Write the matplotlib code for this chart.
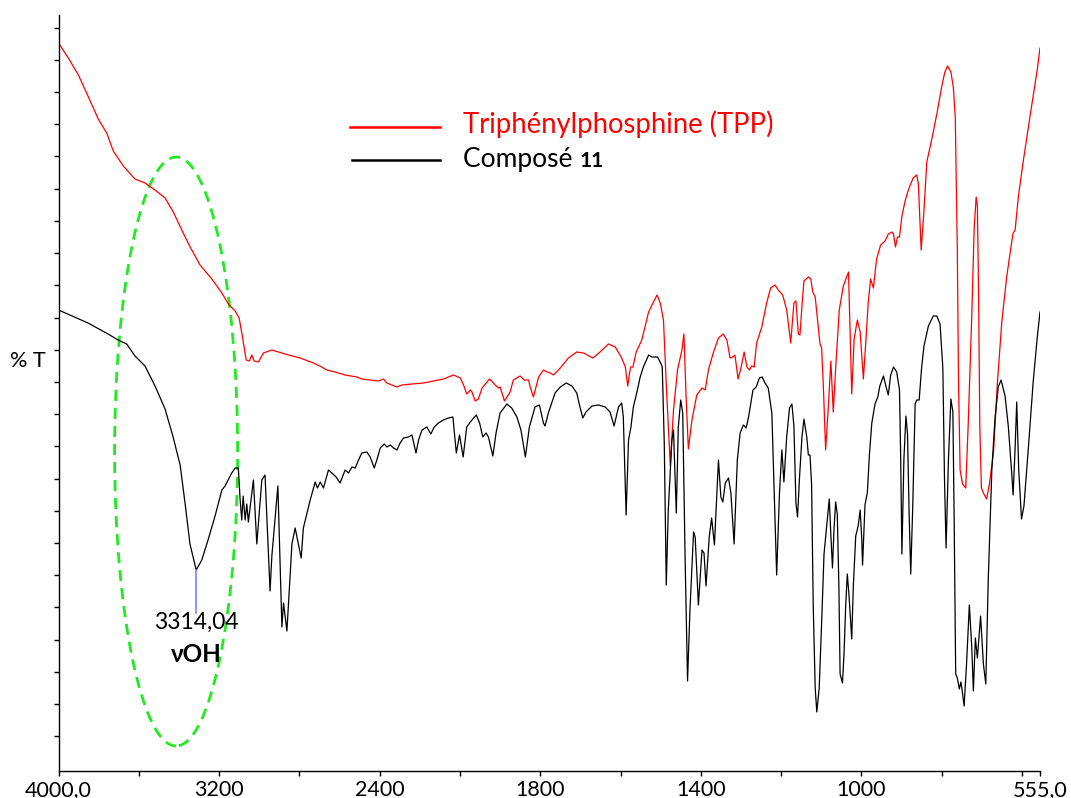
import numpy as np
import matplotlib
matplotlib.use("Agg")
import matplotlib.pyplot as plt
from matplotlib.patches import Ellipse

plt.rcParams['font.family'] = ['Lato', 'DejaVu Sans']

# compound 11 (black trace): wavenumber (cm-1) / transmittance
wn_cpd = [4000, 3853, 3753, 3703, 3660, 3619, 3569, 3519, 3469, 3429, 3394, 3369, 3345, 3314,
          3286, 3255, 3220, 3186, 3170, 3137, 3120, 3104, 3095, 3087, 3080, 3070, 3062, 3054,
          3029, 3012, 2987, 2971, 2946, 2937, 2907, 2887, 2879, 2862, 2837, 2821, 2791, 2780,
          2746, 2721, 2710, 2696, 2680, 2655, 2638, 2617, 2597, 2572, 2555, 2538, 2522, 2505,
          2489, 2464, 2447, 2427, 2414, 2397, 2377, 2364, 2347, 2331, 2314, 2298, 2281, 2256,
          2239, 2219, 2206, 2189, 2165, 2145, 2128, 2107, 2082, 2057, 2035, 2018, 2002, 1992,
          1983, 1974, 1966, 1959, 1951, 1943, 1935, 1929, 1918, 1910, 1900, 1883, 1871, 1858,
          1848, 1837, 1827, 1813, 1802, 1792, 1788, 1779, 1763, 1750, 1735, 1721, 1709, 1701,
          1694, 1686, 1671, 1655, 1638, 1626, 1616, 1605, 1597, 1593, 1586, 1580, 1574, 1568,
          1559, 1551, 1543, 1530, 1522, 1514, 1508, 1501, 1496, 1491, 1486, 1481, 1472, 1468,
          1461, 1456, 1450, 1445, 1439, 1433, 1427, 1418, 1414, 1406, 1397, 1392, 1387, 1379,
          1373, 1366, 1360, 1356, 1350, 1345, 1339, 1331, 1325, 1317, 1309, 1302, 1294, 1287,
          1281, 1270, 1262, 1254, 1247, 1240, 1232, 1223, 1217, 1211, 1204, 1198, 1193, 1186,
          1179, 1173, 1168, 1163, 1159, 1154, 1148, 1143, 1136, 1132, 1128, 1124, 1120, 1115,
          1111, 1105, 1099, 1093, 1086, 1080, 1076, 1072, 1068, 1064, 1060, 1056, 1053, 1047,
          1043, 1039, 1035, 1031, 1024, 1020, 1014, 1008, 1003, 999, 997, 991, 985, 980,
          974, 966, 959, 954, 945, 939, 933, 927, 920, 912, 905, 902, 899, 894,
          889, 885, 881, 877, 872, 866, 862, 856, 850, 844, 833, 821, 812, 804,
          797, 793, 789, 783, 777, 772, 769, 765, 761, 756, 752, 748, 744, 738,
          731, 725, 721, 716, 711, 703, 696, 690, 684, 675, 667, 659, 652, 642,
          634, 626, 622, 617, 613, 608, 601, 595, 584, 572, 562, 555]
t_cpd = [49.0, 47.7, 46.6, 46.0, 45.6, 44.4, 43.4, 41.4, 39.1, 36.3, 33.5, 29.6, 25.6, 23.0,
         24.0, 26.0, 28.4, 31.0, 31.4, 32.7, 33.2, 33.2, 30.0, 28.0, 30.4, 28.0, 29.6, 27.8,
         32.0, 25.6, 32.0, 32.5, 20.9, 24.4, 31.4, 17.3, 19.7, 16.9, 25.6, 27.2, 24.2, 27.2,
         30.0, 31.8, 31.2, 31.8, 31.2, 33.0, 32.7, 32.3, 31.7, 33.0, 32.7, 33.3, 33.2, 34.0,
         34.7, 34.8, 34.3, 33.2, 34.0, 35.2, 35.6, 35.3, 35.5, 35.2, 35.0, 35.7, 36.2, 36.3,
         36.5, 34.7, 36.0, 37.0, 37.3, 36.6, 37.3, 37.7, 38.0, 38.2, 38.3, 34.7, 36.5, 34.3,
         37.3, 37.8, 38.2, 38.5, 37.7, 36.3, 36.7, 36.3, 34.4, 36.7, 38.7, 39.6, 39.2, 38.3,
         37.0, 34.3, 37.3, 39.3, 39.5, 37.7, 37.4, 38.8, 40.7, 41.3, 41.7, 41.4, 40.7, 39.3,
         38.2, 38.8, 39.4, 39.5, 39.3, 38.8, 37.4, 39.3, 39.7, 38.3, 28.5, 36.0, 37.3, 39.3,
         40.8, 42.3, 43.3, 44.5, 44.3, 44.3, 44.3, 43.8, 43.3, 35.7, 21.5, 29.0, 36.0, 37.0,
         28.7, 37.3, 40.0, 38.7, 24.0, 11.9, 19.0, 26.8, 26.3, 19.5, 25.0, 24.7, 21.4, 26.3,
         28.2, 25.5, 30.7, 34.0, 30.3, 29.8, 31.7, 32.2, 30.7, 25.6, 34.0, 36.7, 37.5, 37.2,
         38.3, 41.0, 41.3, 42.2, 42.3, 41.7, 41.2, 38.7, 30.7, 22.5, 30.7, 35.0, 31.8, 36.3,
         39.2, 39.6, 37.4, 29.7, 28.3, 32.3, 36.3, 38.1, 36.3, 34.5, 34.5, 31.6, 19.6, 11.2,
         8.8, 11.2, 17.7, 24.6, 27.6, 30.1, 26.5, 23.2, 27.2, 29.8, 28.6, 21.4, 12.6, 11.7,
         14.8, 19.5, 22.6, 20.6, 16.1, 21.4, 26.4, 27.4, 29.0, 26.1, 23.5, 29.5, 30.8, 34.5,
         37.7, 39.6, 40.3, 41.4, 42.4, 41.4, 40.5, 42.5, 43.3, 42.8, 41.0, 34.1, 24.6, 34.1,
         38.4, 36.6, 28.6, 22.6, 29.4, 39.6, 40.0, 40.0, 43.2, 45.4, 47.4, 48.4, 48.4, 47.6,
         43.2, 32.3, 25.2, 34.1, 40.1, 38.8, 28.6, 12.6, 12.2, 11.1, 11.8, 10.7, 9.4, 13.6,
         19.5, 15.3, 10.9, 16.2, 14.2, 18.4, 13.6, 11.6, 21.9, 33.0, 38.2, 41.3, 42.0, 40.4,
         37.4, 33.0, 30.5, 35.2, 39.8, 33.0, 28.1, 29.4, 35.2, 41.8, 46.2, 48.8]

# triphenylphosphine (red trace)
wn_tpp = [4000, 3951, 3901, 3851, 3802, 3760, 3727, 3677, 3619, 3569, 3519, 3469, 3428, 3386,
          3344, 3295, 3236, 3186, 3154, 3120, 3100, 3085, 3065, 3049, 3037, 3025, 3004, 2979,
          2937, 2904, 2854, 2796, 2730, 2688, 2663, 2622, 2572, 2513, 2489, 2447, 2406, 2381,
          2364, 2314, 2289, 2239, 2181, 2132, 2082, 2032, 1999, 1991, 1983, 1974, 1970, 1962,
          1954, 1945, 1926, 1912, 1904, 1900, 1889, 1875, 1867, 1850, 1840, 1829, 1825, 1817,
          1804, 1792, 1783, 1775, 1767, 1750, 1730, 1709, 1692, 1669, 1651, 1630, 1613, 1597,
          1588, 1582, 1575, 1569, 1561, 1547, 1530, 1518, 1509, 1501, 1493, 1485, 1476, 1468,
          1458, 1447, 1442, 1437, 1431, 1422, 1410, 1397, 1389, 1381, 1369, 1356, 1344, 1335,
          1327, 1320, 1315, 1307, 1300, 1292, 1285, 1279, 1273, 1267, 1261, 1248, 1236, 1226,
          1215, 1207, 1196, 1186, 1176, 1168, 1163, 1157, 1153, 1148, 1143, 1132, 1126, 1121,
          1115, 1110, 1103, 1099, 1095, 1089, 1082, 1076, 1070, 1063, 1055, 1045, 1032, 1028,
          1024, 1018, 1010, 1003, 995, 988, 983, 977, 970, 962, 952, 941, 933, 924,
          920, 915, 910, 905, 899, 891, 883, 871, 862, 858, 854, 851, 844, 837,
          825, 812, 800, 792, 785, 777, 771, 766, 761, 758, 754, 748, 740, 734,
          725, 719, 714, 711, 708, 705, 701, 696, 688, 681, 671, 661, 650, 638,
          627, 622, 617, 609, 597, 584, 572, 562, 555]
t_tpp = [75.7, 74.2, 72.5, 70.3, 68.1, 66.7, 64.9, 63.4, 62.1, 61.7, 61.0, 60.2, 58.8, 57.0,
         55.3, 53.5, 52.1, 50.7, 49.6, 48.9, 48.2, 46.5, 44.0, 43.9, 44.5, 43.9, 43.8, 44.7,
         45.0, 44.8, 44.5, 44.2, 43.7, 43.3, 43.0, 42.8, 42.5, 42.3, 42.1, 42.0, 41.9, 42.1,
         41.7, 41.3, 41.5, 41.6, 41.7, 41.9, 42.1, 42.5, 42.2, 41.5, 40.6, 41.0, 40.8, 39.9,
         40.1, 41.2, 42.1, 41.5, 41.2, 41.3, 39.9, 40.8, 42.0, 42.4, 42.0, 42.0, 41.3, 40.3,
         42.3, 43.0, 42.8, 42.7, 42.5, 43.2, 44.2, 44.8, 44.7, 44.2, 44.8, 45.6, 45.3, 44.2,
         43.3, 41.4, 43.3, 43.3, 44.8, 46.0, 48.8, 49.8, 50.5, 49.7, 48.0, 40.7, 33.5, 39.0,
         43.0, 45.0, 46.6, 40.7, 35.1, 38.0, 40.5, 41.2, 41.0, 43.0, 44.7, 46.2, 46.6, 46.0,
         44.2, 44.3, 44.5, 42.1, 43.2, 44.8, 43.3, 43.0, 43.4, 43.3, 45.7, 47.3, 49.7, 51.2,
         51.5, 51.0, 50.5, 49.0, 45.7, 49.7, 49.9, 46.6, 46.5, 49.4, 51.9, 52.3, 52.1, 50.8,
         50.3, 48.3, 45.6, 45.2, 41.7, 35.0, 39.5, 43.9, 38.8, 43.9, 49.0, 51.4, 52.8, 46.8,
         40.6, 46.1, 48.0, 46.8, 42.1, 46.4, 49.7, 52.1, 51.2, 54.1, 55.5, 55.9, 56.6, 56.8,
         56.6, 55.3, 56.3, 56.3, 58.4, 59.9, 61.0, 62.2, 62.5, 61.6, 57.7, 55.0, 59.0, 63.8,
         66.0, 68.6, 71.3, 72.8, 73.4, 72.8, 71.3, 68.2, 55.0, 41.8, 33.0, 31.6, 31.2, 37.4,
         48.4, 57.2, 60.3, 59.4, 50.6, 37.4, 31.2, 30.7, 30.1, 31.6, 34.7, 41.8, 47.9, 52.3,
         55.4, 56.7, 57.0, 60.3, 63.8, 67.3, 70.4, 73.0, 75.2]

major_ticks = [4000, 3200, 2400, 1800, 1400, 1000, 555]
major_labels = ['4000,0', '3200', '2400', '1800', '1400', '1000', '555,0']
minor_ticks = [3600, 2800, 2000, 1600, 1200, 800, 600]

oh_peak = 3314
oh_label = '3314,04'


# the spectrometer doubles the scale below 2000 cm-1
def fwd(w):
    w = np.asarray(w, dtype=float)
    return np.where(w >= 2000, w, 2 * w - 2000)


def inv(z):
    z = np.asarray(z, dtype=float)
    return np.where(z >= 2000, z, (z + 2000) / 2)


W, H = 1071, 798
fig = plt.figure(figsize=(W / 100, H / 100), dpi=100)
ax = fig.add_axes([58.5 / W, 1 - 771 / H, (1040 - 58.5) / W, (771 - 15) / H])
ax.set_xscale('function', functions=(fwd, inv))
ax.set_xlim(4000, 555)
ax.set_ylim(2.9, 78.5)

ax.plot(wn_tpp, t_tpp, color='#ff0000', lw=0.9)
ax.plot(wn_cpd, t_cpd, color='black', lw=0.9)

# axes: left + bottom only, short outward ticks, no y labels
for s in ['top', 'right']:
    ax.spines[s].set_visible(False)
for s in ['left', 'bottom']:
    ax.spines[s].set_linewidth(1.0)
ax.set_xticks(major_ticks)
ax.set_xticklabels(major_labels)
ax.set_xticks(minor_ticks, minor=True)
ax.tick_params(axis='x', which='both', direction='out', length=3.5, width=1.0,
               labelsize=15.5, pad=3)
ax.set_yticks(77.23 - 3.22 * np.arange(23))
ax.set_yticklabels([])
ax.tick_params(axis='y', direction='out', length=3.5, width=1.0)
fig.text(10 / W, 1 - 361 / H, '% T', fontsize=15.5, va='center', ha='left')

# O-H band: dashed ellipse and peak marker
ax.add_patch(Ellipse((3414, 34.85), width=613, height=58.9, fill=False,
                     edgecolor='#22ea22', lw=2.0, linestyle=(0, (4, 2.5))))
t_oh = t_cpd[wn_cpd.index(oh_peak)]
ax.plot([oh_peak, oh_peak], [t_oh, 18.7], color='#8080ff', lw=1.2)
ax.text(oh_peak, 18.8, oh_label, ha='center', va='top', fontsize=16.5)
ax.text(oh_peak, 15.7, '\u03bdOH', ha='center', va='top', fontsize=17.5, fontweight='bold')

# legend drawn by hand
fig.add_artist(plt.Line2D([350 / W, 440 / W], [1 - 127 / H, 1 - 127 / H], color='#ff0000', lw=1.8))
fig.add_artist(plt.Line2D([352 / W, 440 / W], [1 - 160 / H, 1 - 160 / H], color='black', lw=1.8))
fig.text(463 / W, 1 - 124 / H, 'Triphénylphosphine (TPP)', color='#ff0000', fontsize=19.8, va='center')
t1 = fig.text(463 / W, 1 - 160 / H, 'Composé ', color='black', fontsize=19, va='center')
fig.canvas.draw()
bb = t1.get_window_extent()
fig.text(bb.x1 / W, 1 - 161 / H, '11', color='black', fontsize=15, fontweight='bold', va='center')

fig.savefig('out.png', dpi=100)
